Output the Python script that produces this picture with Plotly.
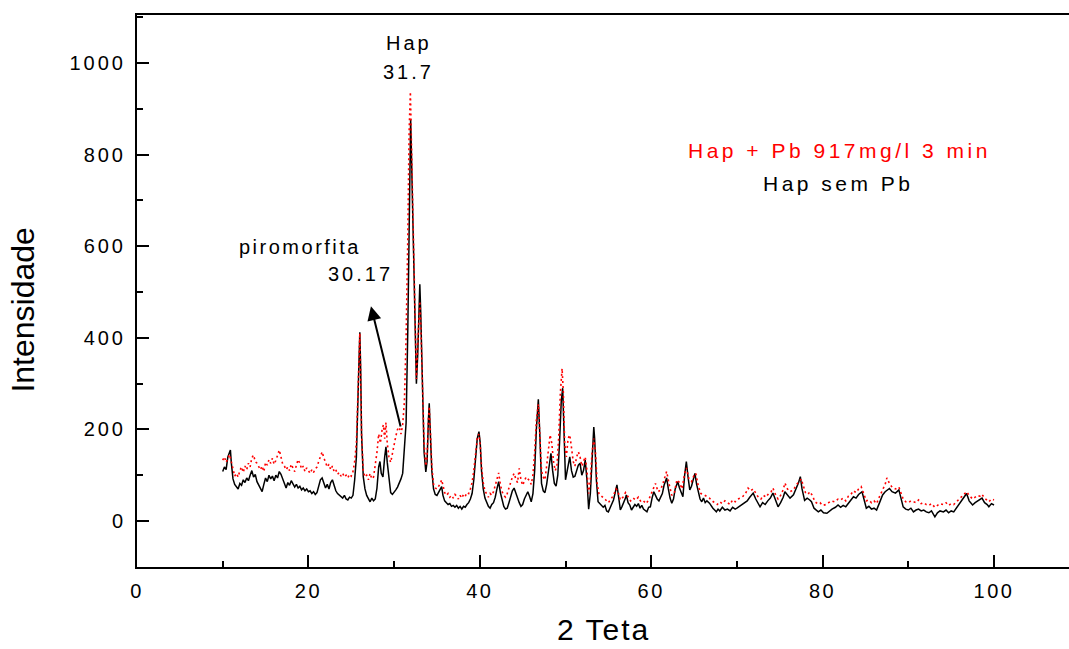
import plotly.graph_objects as go

# ---------------- data ----------------
black_x = [10.0, 10.2, 10.4, 10.6, 10.8, 10.9, 11.0, 11.2, 11.4, 11.6, 11.8, 12.0, 12.2, 12.4, 12.6, 12.8, 13.0, 13.2, 13.4, 13.6,
           13.8, 14.0, 14.2, 14.4, 14.6, 14.8, 15.0, 15.2, 15.4, 15.6, 15.8, 16.0, 16.2, 16.4, 16.6, 16.8, 17.0, 17.2, 17.4, 17.6,
           17.8, 18.0, 18.2, 18.4, 18.6, 18.8, 19.0, 19.2, 19.4, 19.6, 19.8, 20.0, 20.2, 20.4, 20.6, 20.8, 21.0, 21.2, 21.4, 21.6,
           21.8, 22.0, 22.2, 22.4, 22.6, 22.8, 23.0, 23.2, 23.4, 23.6, 23.8, 24.0, 24.2, 24.4, 24.6, 24.8, 25.0, 25.2, 25.4, 25.6,
           25.8, 26.0, 26.1, 26.2, 26.4, 26.6, 26.8, 27.0, 27.2, 27.4, 27.6, 27.8, 28.0, 28.2, 28.35, 28.5, 28.7, 28.9, 29.05, 29.2,
           29.4, 29.6, 29.8, 30.0, 30.2, 30.4, 30.6, 30.8, 31.0, 31.2, 31.4, 31.6, 31.8, 31.93, 32.05, 32.2, 32.35, 32.5, 32.6, 32.75,
           32.9, 33.0, 33.1, 33.3, 33.5, 33.7, 33.85, 34.0, 34.1, 34.25, 34.4, 34.6, 34.8, 35.0, 35.2, 35.4, 35.55, 35.7, 35.9, 36.1,
           36.3, 36.5, 36.7, 36.9, 37.1, 37.3, 37.5, 37.7, 37.9, 38.1, 38.3, 38.5, 38.7, 38.9, 39.1, 39.3, 39.5, 39.7, 39.9, 40.05,
           40.2, 40.4, 40.6, 40.8, 41.0, 41.2, 41.4, 41.6, 41.8, 42.0, 42.2, 42.4, 42.6, 42.8, 43.0, 43.2, 43.4, 43.6, 43.8, 44.0,
           44.2, 44.4, 44.6, 44.8, 45.0, 45.2, 45.4, 45.6, 45.8, 46.0, 46.2, 46.4, 46.6, 46.83, 47.0, 47.2, 47.4, 47.6, 47.8, 48.0,
           48.2, 48.3, 48.5, 48.7, 48.9, 49.1, 49.3, 49.5, 49.67, 49.85, 50.0, 50.2, 50.4, 50.5, 50.7, 50.9, 51.1, 51.3, 51.5, 51.7,
           51.9, 52.1, 52.3, 52.5, 52.7, 52.9, 53.1, 53.3, 53.4, 53.6, 53.8, 54.0, 54.2, 54.4, 54.6, 54.8, 55.0, 55.2, 55.4, 55.6,
           55.8, 56.0, 56.2, 56.4, 56.6, 56.8, 57.0, 57.1, 57.3, 57.5, 57.7, 57.9, 58.1, 58.3, 58.5, 58.7, 58.9, 59.1, 59.3, 59.5,
           59.7, 59.9, 60.1, 60.3, 60.5, 60.7, 60.9, 61.1, 61.3, 61.5, 61.8, 62.0, 62.2, 62.4, 62.6, 62.8, 63.0, 63.1, 63.3, 63.5,
           63.7, 63.9, 64.1, 64.3, 64.5, 64.7, 64.9, 65.1, 65.3, 65.5, 65.7, 65.9, 66.1, 66.3, 66.5, 66.8, 67.0, 67.2, 67.4, 67.6,
           67.8, 68.0, 68.3, 68.6, 68.9, 69.2, 69.5, 69.8, 70.0, 70.3, 70.6, 70.9, 71.2, 71.5, 71.9, 72.2, 72.5, 72.7, 73.0, 73.3,
           73.6, 73.9, 74.2, 74.5, 74.8, 75.1, 75.4, 75.6, 75.9, 76.2, 76.6, 76.9, 77.2, 77.4, 77.6, 77.9, 78.2, 78.5, 78.7, 79.0,
           79.3, 79.5, 79.8, 80.1, 80.5, 80.8, 81.1, 81.5, 81.8, 82.1, 82.4, 82.7, 83.0, 83.3, 83.6, 83.9, 84.2, 84.6, 84.9, 85.1,
           85.4, 85.7, 86.0, 86.3, 86.6, 87.0, 87.3, 87.6, 87.8, 88.1, 88.5, 88.9, 89.1, 89.4, 89.7, 90.0, 90.3, 90.6, 90.9, 91.2,
           91.5, 91.8, 92.1, 92.4, 92.7, 93.1, 93.4, 93.7, 94.1, 94.4, 94.7, 95.0, 95.3, 95.6, 95.9, 96.2, 96.5, 96.8, 97.1, 97.5,
           97.8, 98.1, 98.4, 98.6, 98.9, 99.2, 99.4, 99.7, 100.0]
black_y = [108, 118, 112, 140, 150, 155, 128, 92, 80, 74, 70, 82, 78, 90, 84, 94, 88, 100, 110, 96,
           102, 86, 78, 70, 64, 80, 94, 86, 100, 92, 98, 88, 100, 94, 108, 102, 92, 80, 72, 84,
           78, 88, 82, 74, 80, 72, 76, 68, 72, 66, 70, 64, 66, 60, 64, 58, 62, 78, 90, 94,
           82, 72, 80, 70, 84, 90, 78, 66, 60, 56, 54, 50, 56, 48, 46, 52, 50, 56, 90, 140,
           280, 412, 330, 190, 97, 70, 56, 48, 42, 50, 44, 48, 72, 118, 130, 104, 96, 140, 162, 128,
           86, 62, 58, 62, 68, 74, 82, 92, 104, 150, 214, 420, 760, 877, 780, 640, 500, 330, 300, 360,
           470, 517, 460, 280, 150, 107, 130, 220, 257, 180, 110, 70, 58, 56, 62, 70, 75, 56, 44, 40,
           36, 38, 32, 34, 30, 34, 28, 32, 26, 32, 30, 36, 40, 48, 60, 90, 140, 180, 195, 170,
           110, 70, 50, 40, 32, 28, 36, 40, 52, 70, 86, 62, 44, 32, 26, 28, 40, 52, 66, 72,
           60, 48, 40, 32, 36, 48, 56, 64, 54, 42, 60, 110, 200, 266, 190, 82, 66, 62, 80, 110,
           140, 148, 110, 82, 76, 100, 170, 260, 290, 200, 90, 110, 136, 140, 110, 96, 98, 110, 122, 126,
           100, 110, 133, 90, 26, 60, 150, 205, 180, 90, 42, 38, 32, 30, 34, 22, 20, 30, 36, 46,
           62, 79, 52, 24, 32, 40, 50, 57, 40, 35, 24, 30, 36, 32, 38, 28, 34, 26, 22, 20,
           30, 31, 50, 64, 56, 48, 44, 53, 60, 78, 94, 70, 50, 39, 48, 70, 82, 86, 72, 60,
           53, 100, 130, 96, 68, 76, 90, 104, 80, 60, 48, 42, 50, 40, 44, 39, 32, 28, 24, 20,
           26, 22, 30, 24, 26, 22, 30, 26, 28, 32, 36, 40, 44, 52, 61, 48, 38, 31, 40, 36,
           44, 50, 61, 44, 31, 40, 52, 64, 56, 50, 57, 70, 84, 97, 70, 45, 50, 46, 42, 28,
           22, 20, 24, 18, 17, 22, 26, 30, 35, 30, 34, 31, 38, 46, 53, 50, 58, 64, 44, 28,
           32, 26, 28, 24, 38, 57, 64, 68, 71, 64, 61, 68, 50, 31, 26, 24, 28, 20, 24, 26,
           22, 24, 20, 18, 22, 9, 18, 22, 20, 24, 18, 22, 20, 28, 34, 42, 50, 60, 44, 35,
           40, 44, 48, 50, 40, 36, 31, 38, 35]

red_x = [10.0, 10.2, 10.4, 10.6, 10.8, 11.0, 11.2, 11.4, 11.6, 11.8, 12.0, 12.2, 12.4, 12.6, 12.8, 13.0, 13.2, 13.4, 13.6, 13.8,
         14.0, 14.2, 14.4, 14.6, 14.8, 15.0, 15.2, 15.4, 15.6, 15.8, 16.0, 16.2, 16.4, 16.6, 16.8, 17.0, 17.2, 17.4, 17.6, 17.8,
         18.0, 18.2, 18.4, 18.6, 18.8, 19.0, 19.2, 19.4, 19.6, 19.8, 20.0, 20.2, 20.4, 20.6, 20.8, 21.0, 21.2, 21.4, 21.6, 21.8,
         22.0, 22.2, 22.4, 22.6, 22.8, 23.0, 23.2, 23.4, 23.6, 23.8, 24.0, 24.2, 24.4, 24.6, 24.8, 25.0, 25.2, 25.4, 25.6, 25.8,
         26.0, 26.1, 26.2, 26.4, 26.6, 26.8, 27.0, 27.2, 27.4, 27.6, 27.8, 28.0, 28.2, 28.4, 28.6, 28.75, 28.9, 29.05, 29.2, 29.4,
         29.6, 29.8, 30.0, 30.2, 30.4, 30.6, 30.8, 31.0, 31.2, 31.4, 31.6, 31.75, 31.9, 32.05, 32.2, 32.35, 32.5, 32.6, 32.75, 32.9,
         33.0, 33.1, 33.3, 33.5, 33.7, 33.85, 34.0, 34.1, 34.25, 34.4, 34.6, 34.8, 35.0, 35.2, 35.4, 35.55, 35.7, 35.9, 36.1, 36.3,
         36.5, 36.7, 36.9, 37.1, 37.3, 37.5, 37.7, 37.9, 38.1, 38.3, 38.5, 38.7, 38.9, 39.1, 39.3, 39.5, 39.7, 39.9, 40.05, 40.2,
         40.4, 40.6, 40.8, 41.0, 41.2, 41.4, 41.6, 41.8, 42.0, 42.2, 42.4, 42.6, 42.8, 43.0, 43.2, 43.4, 43.6, 43.8, 44.0, 44.2,
         44.4, 44.6, 44.8, 45.0, 45.2, 45.4, 45.6, 45.8, 46.0, 46.2, 46.4, 46.6, 46.83, 47.0, 47.2, 47.4, 47.6, 47.8, 48.0, 48.2,
         48.4, 48.6, 48.8, 49.0, 49.2, 49.4, 49.6, 49.75, 49.9, 50.1, 50.3, 50.5, 50.7, 50.9, 51.1, 51.3, 51.5, 51.7, 51.9, 52.1,
         52.3, 52.5, 52.7, 52.9, 53.1, 53.3, 53.5, 53.7, 53.9, 54.1, 54.4, 54.7, 55.0, 55.3, 55.6, 55.9, 56.1, 56.4, 56.7, 57.0,
         57.3, 57.6, 57.9, 58.2, 58.5, 58.8, 59.1, 59.4, 59.7, 60.0, 60.3, 60.5, 60.8, 61.1, 61.4, 61.8, 62.1, 62.4, 62.7, 63.0,
         63.3, 63.6, 63.9, 64.1, 64.4, 64.7, 65.0, 65.2, 65.5, 65.8, 66.1, 66.4, 66.8, 67.1, 67.4, 67.7, 68.0, 68.3, 68.6, 68.9,
         69.2, 69.5, 69.8, 70.1, 70.4, 70.7, 71.0, 71.3, 71.6, 71.9, 72.2, 72.5, 72.8, 73.1, 73.4, 73.7, 74.0, 74.2, 74.5, 74.8,
         75.1, 75.4, 75.6, 75.9, 76.2, 76.6, 76.9, 77.2, 77.5, 77.7, 78.0, 78.3, 78.5, 78.8, 79.1, 79.4, 79.7, 80.0, 80.4, 80.7,
         81.0, 81.4, 81.8, 82.1, 82.4, 82.7, 83.0, 83.3, 83.6, 83.9, 84.2, 84.5, 84.8, 85.1, 85.4, 85.7, 86.0, 86.3, 86.6, 87.0,
         87.3, 87.5, 87.8, 88.1, 88.5, 88.9, 89.1, 89.4, 89.7, 90.0, 90.3, 90.6, 90.9, 91.2, 91.5, 91.8, 92.1, 92.4, 92.7, 93.1,
         93.4, 93.7, 94.1, 94.4, 94.7, 95.0, 95.3, 95.6, 95.9, 96.2, 96.5, 96.8, 97.1, 97.5, 97.8, 98.1, 98.4, 98.6, 98.9, 99.2,
         99.4, 99.7, 100.0]
red_y = [133, 140, 128, 136, 145, 130, 112, 98, 104, 96, 110, 118, 106, 120, 112, 126, 118, 138, 144, 130,
         126, 118, 112, 120, 108, 128, 122, 134, 126, 137, 124, 132, 146, 155, 140, 124, 120, 112, 118, 110,
         124, 116, 108, 122, 134, 126, 114, 120, 108, 116, 110, 104, 112, 106, 114, 118, 130, 140, 151, 138,
         126, 118, 124, 112, 120, 108, 112, 102, 106, 98, 104, 96, 100, 94, 102, 98, 108, 130, 170, 290,
         410, 320, 190, 110, 96, 100, 90, 104, 92, 96, 120, 150, 190, 170, 200, 210, 180, 215, 170, 140,
         128, 150, 170, 185, 200, 205, 190, 210, 260, 400, 620, 850, 937, 800, 620, 490, 340, 310, 380, 450,
         480, 440, 290, 170, 120, 140, 220, 250, 190, 120, 80, 72, 70, 76, 82, 90, 74, 62, 56, 60,
         52, 56, 50, 58, 54, 48, 56, 50, 58, 54, 62, 60, 70, 84, 110, 150, 180, 190, 165, 120,
         84, 66, 58, 52, 60, 56, 64, 80, 96, 105, 80, 64, 56, 52, 60, 70, 84, 96, 104, 92,
         84, 115, 90, 78, 86, 96, 92, 88, 80, 100, 150, 220, 255, 200, 110, 96, 90, 120, 160, 188,
         170, 130, 110, 120, 180, 280, 333, 280, 170, 140, 180, 188, 160, 130, 120, 140, 151, 140, 120, 130,
         140, 110, 60, 90, 150, 180, 150, 80, 60, 56, 52, 46, 40, 48, 56, 70, 66, 46, 52, 62,
         54, 44, 50, 46, 52, 42, 44, 38, 46, 60, 72, 82, 64, 68, 84, 108, 80, 56, 62, 90,
         84, 70, 104, 116, 92, 86, 100, 104, 76, 60, 58, 54, 50, 44, 40, 36, 42, 38, 44, 40,
         36, 46, 42, 48, 50, 54, 60, 72, 66, 70, 60, 52, 48, 56, 52, 60, 64, 72, 58, 48,
         56, 68, 83, 70, 64, 68, 78, 86, 92, 80, 62, 58, 64, 56, 42, 38, 40, 34, 36, 40,
         44, 42, 48, 46, 50, 44, 54, 58, 66, 62, 70, 75, 60, 44, 46, 40, 44, 38, 52, 70,
         80, 94, 82, 74, 70, 74, 62, 48, 42, 40, 44, 42, 40, 46, 38, 40, 36, 34, 38, 30,
         34, 38, 36, 40, 34, 38, 36, 42, 48, 54, 60, 64, 56, 48, 52, 56, 54, 58, 50, 44,
         42, 48, 46]

x_tick_vals = [0, 20, 40, 60, 80, 100]
y_tick_vals = [0, 200, 400, 600, 800, 1000]

series_names = ["Hap sem Pb", "Hap + Pb 917mg/l 3 min"]

FONT = "Liberation Sans, Arial, sans-serif"


def spaced(t, px=3):
    return f'<span style="letter-spacing:{px}px">{t}</span>'


fig = go.Figure()
fig.add_trace(go.Scatter(x=black_x, y=black_y, mode="lines", name=series_names[0],
                         line=dict(color="black", width=1.5)))
fig.add_trace(go.Scatter(x=red_x, y=red_y, mode="lines", name=series_names[1],
                         line=dict(color="#ff0000", width=1.6, dash="2px,3px")))

axis_common = dict(showline=True, linecolor="black", linewidth=2, showgrid=False, zeroline=False,
                   ticks="inside", ticklen=12, tickwidth=1.5, tickcolor="black",
                   tickfont=dict(family=FONT, size=20, color="black"))

fig.update_layout(
    width=1069, height=649,
    margin=dict(l=137, r=0, t=15, b=82),
    paper_bgcolor="white", plot_bgcolor="white",
    showlegend=False,
    xaxis=dict(range=[0, 108.75], tickmode="array", tickvals=x_tick_vals,
               ticktext=[spaced(str(v), 2.5) for v in x_tick_vals], mirror=True,
               minor=dict(dtick=10, ticklen=6, ticks="inside", tickwidth=1.5, tickcolor="black"),
               ticklabelstandoff=5, **axis_common),
    yaxis=dict(range=[-100.4, 1104.8], tickmode="array", tickvals=y_tick_vals,
               ticktext=[spaced(str(v), 3) for v in y_tick_vals],
               minor=dict(dtick=100, ticklen=6, ticks="inside", tickwidth=1.5, tickcolor="black"),
               ticklabelstandoff=5, **axis_common),
)

ann_font = dict(family=FONT, size=20, color="black")
annotations = [
    # axis titles
    dict(text="Intensidade", xref="paper", yref="paper", x=-0.122, y=0.465, textangle=-90,
         showarrow=False, font=dict(family=FONT, size=32, color="black"), xanchor="center", yanchor="middle"),
    dict(text=spaced("2 Teta", 2), xref="paper", yref="paper", x=0.5, y=-0.147,
         showarrow=False, font=dict(family=FONT, size=30, color="black"), xanchor="center", yanchor="bottom"),
    # peak labels
    dict(text=spaced("Hap", 3), x=31.7, y=1043, showarrow=False, font=ann_font),
    dict(text=spaced("31.7", 3), x=31.7, y=980, showarrow=False, font=ann_font),
    dict(text=spaced("piromorfita", 2.5), x=19.0, y=598, showarrow=False, font=ann_font),
    dict(text=spaced("30.17", 3), x=26.1, y=539, showarrow=False, font=ann_font),
    # arrow to piromorfita peak
    dict(text="", x=27.3, y=469, ax=30.8, ay=203, axref="x", ayref="y",
         showarrow=True, arrowhead=2, arrowsize=1.4, arrowwidth=2, arrowcolor="black"),
    # legend texts
    dict(text=spaced(series_names[1], 3.5), x=82.0, y=810, showarrow=False,
         font=dict(family=FONT, size=21, color="#ff0000")),
    dict(text=spaced(series_names[0], 3.5), x=81.8, y=738, showarrow=False,
         font=dict(family=FONT, size=21, color="black")),
]
fig.update_layout(annotations=annotations)

fig.write_html("out.html")
